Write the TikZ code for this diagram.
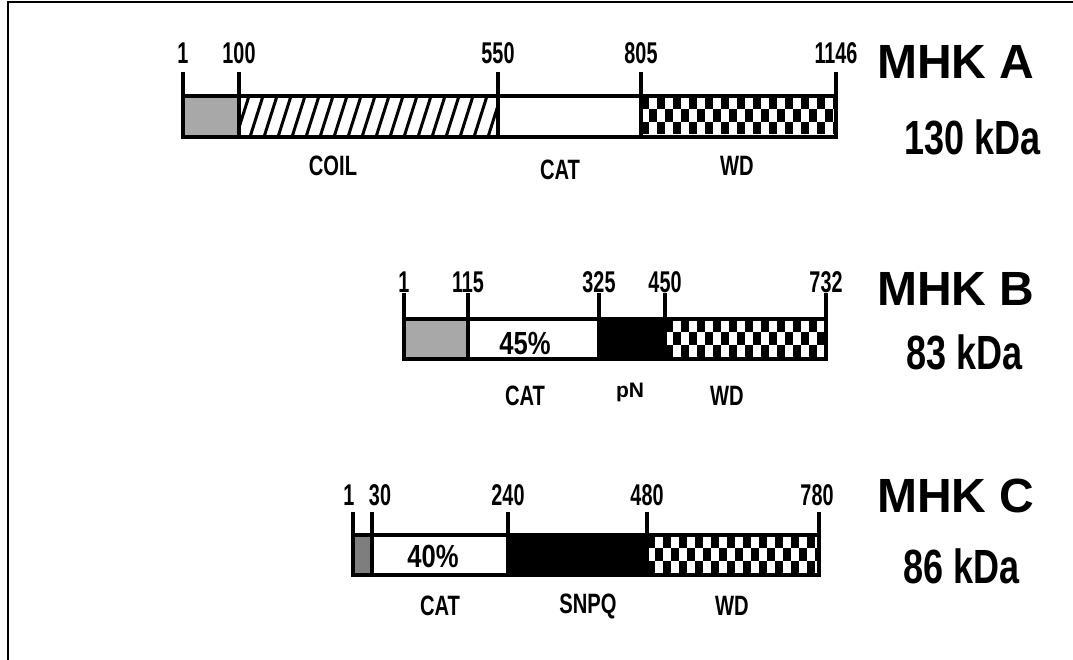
\documentclass[tikz,border=0pt]{standalone}
\usepackage{fontspec}
\newfontfamily\narrowsans[FakeStretch=0.66]{Liberation Sans}
\newfontfamily\labsans[FakeStretch=0.72]{Liberation Sans}
\newfontfamily\midsans[FakeStretch=0.8]{Liberation Sans}
\newfontfamily\masssans[FakeStretch=0.75]{Liberation Sans}
\newfontfamily\plainsans{Liberation Sans}
\usetikzlibrary{positioning}
\definecolor{lightgrey}{HTML}{A8A8A8}
\definecolor{darkgrey}{HTML}{7E7E7E}

\begin{document}
\begin{tikzpicture}[x=1pt, y=-1pt,
  box/.style={draw, line width=3.2pt},
  tickline/.style={line width=3.2pt},
  hatch/.style={line width=3pt},
  num/.style={inner sep=0pt, font=\narrowsans\bfseries\fontsize{30}{34}\selectfont},
  dom/.style={inner sep=0pt, font=\labsans\bfseries\fontsize{28}{32}\selectfont},
  pct/.style={inner sep=0pt, font=\midsans\bfseries\fontsize{32}{36}\selectfont},
  prot/.style={inner sep=0pt, font=\plainsans\bfseries\fontsize{48}{52}\selectfont},
  mass/.style={inner sep=0pt, font=\masssans\bfseries\fontsize{48}{52}\selectfont}]
  \useasboundingbox (0,0) rectangle (1073,660);
  \draw[line width=2pt] (8,660) -- (8,2) -- (1073,2);
  % MHK A
  \fill[lightgrey] (183,96) rectangle (239,137);
  \begin{scope}
    \clip (239,96) rectangle (498,137);
    \foreach \hx in {222,236,...,512}
      \draw[hatch] (\hx,137) -- (\hx+13,96);
  \end{scope}
  \begin{scope}
    \clip (641,96) rectangle (836,137);
    \foreach \row in {0,1,2}
      \foreach \col in {0,...,12}
        \fill ({641+16*\col+8*mod(\row,2)},{97+12.3*\row}) rectangle +(8,12.3);
  \end{scope}
  \draw[box] (183,96) rectangle (836,137);
  \foreach \xx/\lab in {183/1, 239/100, 498/550, 641/805, 836/1146} {
    \node[num] (a\lab) at (\xx,53) {\lab};
    \draw[tickline] (\xx,72) -- (\xx,137);
  }
  \node[dom] (acoil) at (333,166) {COIL};
  \node[dom] (acat) at (560,170) {CAT};
  \node[dom] (awd) at (737,166) {WD};
  \node[prot] (mhka) at (956,62) {MHK A};
  \node[mass] (kdaa) at (973,137) {130 kDa};
  % MHK B
  \fill[lightgrey] (404,319) rectangle (468,359);
  \fill (599,319) rectangle (665,359);
  \begin{scope}
    \clip (665,319) rectangle (826,359);
    \foreach \row in {0,1,2}
      \foreach \col in {0,...,10}
        \fill ({665+16*\col+8*mod(\row,2)},{320+12.3*\row}) rectangle +(8,12.3);
  \end{scope}
  \draw[box] (404,319) rectangle (826,359);
  \foreach \xx/\lab in {404/1, 468/115, 599/325, 665/450, 826/732} {
    \node[num] (b\lab) at (\xx,282) {\lab};
    \draw[tickline] (\xx,293) -- (\xx,359);
  }
  \node[pct] (bpct) at (525,344) {45\%};
  \node[dom] (bcat) at (525,396) {CAT};
  \node[inner sep=0pt, font=\plainsans\bfseries\fontsize{21}{24}\selectfont] (bpn) at (630,392) {pN};
  \node[dom] (bwd) at (727,396) {WD};
  \node[prot] (mhkb) at (956,289) {MHK B};
  \node[mass] (kdab) at (965,352) {83 kDa};
  % MHK C
  \fill[darkgrey] (353,535) rectangle (372,575);
  \fill (508,535) rectangle (647,575);
  \begin{scope}
    \clip (647,535) rectangle (819,575);
    \foreach \row in {0,1,2}
      \foreach \col in {0,...,11}
        \fill ({647+16*\col+8*mod(\row,2)},{536+12.3*\row}) rectangle +(8,12.3);
  \end{scope}
  \draw[box] (353,535) rectangle (819,575);
  \foreach \xx in {353,372,508,647,819} {
    \draw[tickline] (\xx,512) -- (\xx,575);
  }
  \node[num] (c1) at (349,495) {1};
  \node[num] (c30) at (380,495) {30};
  \node[num] (c240) at (508,495) {240};
  \node[num] (c480) at (647,495) {480};
  \node[num] (c780) at (817,495) {780};
  \node[pct] (cpct) at (433,556) {40\%};
  \node[dom] (ccat) at (440,606) {CAT};
  \node[dom] (csnpq) at (588,606) {SNPQ};
  \node[dom] (cwd) at (732,606) {WD};
  \node[prot] (mhkc) at (956,496) {MHK C};
  \node[mass] (kdac) at (962,566) {86 kDa};
\end{tikzpicture}
\end{document}
